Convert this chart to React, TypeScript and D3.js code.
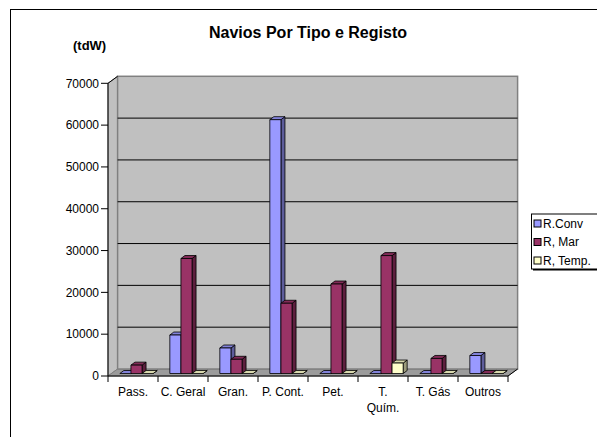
import * as d3 from 'd3'

const categories = ['Pass.', 'C. Geral', 'Gran.', 'P. Cont.', 'Pet.', 'T. Quím.', 'T. Gás', 'Outros']
const seriesNames = ['R.Conv', 'R, Mar', 'R, Temp.']
const seriesColors = ['#9999FF', '#993366', '#FFFFCC']
const rConv = [0, 9200, 6100, 60700, 0, 0, 0, 4300]
const rMar = [2000, 27500, 3400, 16800, 21400, 28200, 3600, 0]
const rTemp = [0, 0, 0, 0, 0, 2500, 0, 0]
const yTicks = [0, 10000, 20000, 30000, 40000, 50000, 60000, 70000]

const W = 597
const H = 437
const FONT = 'Liberation Sans, Arial, sans-serif'

// 3D depth of the plot box and of the bars
const DX = 9.6
const DY = 7
const BAR_SX = 3.5
const BAR_SY = 2.5
const BAR_DX = 4
const BAR_DY = 3

export default function App() {
  const x0 = 108
  const x1 = 508
  const y = d3.scaleLinear().domain([0, 70000]).range([376, 83.3])
  const x = d3.scaleBand<string>().domain(categories).range([x0, x1])
  const xs = d3.scaleBand<string>().domain(seriesNames).range([0, x.bandwidth()]).paddingOuter(0.75)
  const data = [rConv, rMar, rTemp]

  const base = y(0)
  const top = y(70000)
  const pts = (p: number[][]) => p.map((d) => d.join(',')).join(' ')

  const bars: JSX.Element[] = []
  categories.forEach((c, ci) => {
    seriesNames.forEach((s, si) => {
      const v = data[si][ci]
      const bx = (x(c) as number) + (xs(s) as number) + BAR_SX
      const bw = xs.bandwidth()
      const yb = base - BAR_SY
      const yt = y(v) - BAR_SY
      const col = d3.color(seriesColors[si])!
      const topCol = col.darker(0.45).toString()
      const sideCol = col.darker(1.4).toString()
      bars.push(
        <g key={`${ci}-${si}`} stroke="#000" strokeWidth={0.8} strokeLinejoin="round">
          <polygon
            points={pts([[bx + bw, yb], [bx + bw + BAR_DX, yb - BAR_DY], [bx + bw + BAR_DX, yt - BAR_DY], [bx + bw, yt]])}
            fill={sideCol}
          />
          <polygon
            points={pts([[bx, yt], [bx + BAR_DX, yt - BAR_DY], [bx + bw + BAR_DX, yt - BAR_DY], [bx + bw, yt]])}
            fill={topCol}
          />
          {v > 0 && <rect x={bx} y={yt} width={bw} height={yb - yt} fill={seriesColors[si]} />}
        </g>
      )
    })
  })

  return (
    <svg
      width={W}
      height={H}
      style={{ position: 'absolute', left: 0, top: 0, background: '#fff' }}
      fontFamily={FONT}
    >
      <rect x={10.5} y={9.5} width={620} height={460} fill="#fff" stroke="#000" strokeWidth={1} />

      <text x={308} y={37.5} textAnchor="middle" fontSize={16} fontWeight="bold">
        Navios Por Tipo e Registo
      </text>
      <text x={73} y={49.5} fontSize={13} fontWeight="bold">
        (tdW)
      </text>

      {/* side wall */}
      <polygon
        points={pts([[x0, base], [x0, top], [x0 + DX, top - DY], [x0 + DX, base - DY]])}
        fill="#c0c0c0"
        stroke="#808080"
        strokeWidth={1}
      />
      {/* floor */}
      <polygon
        points={pts([[x0, base], [x1, base], [x1 + DX, base - DY], [x0 + DX, base - DY]])}
        fill="#9c9c9c"
        stroke="#808080"
        strokeWidth={1}
      />
      {/* back wall */}
      <rect
        x={x0 + DX}
        y={top - DY}
        width={x1 - x0}
        height={base - top}
        fill="#c0c0c0"
        stroke="#808080"
        strokeWidth={1.5}
      />
      {yTicks
        .filter((t) => t > 0 && t < 70000)
        .map((t) => (
          <line key={t} x1={x0 + DX} x2={x1 + DX} y1={y(t) - DY} y2={y(t) - DY} stroke="#000" strokeWidth={1} />
        ))}

      {/* axes */}
      <line x1={x0} x2={x0} y1={top} y2={base} stroke="#000" />
      <line x1={x0} x2={x1} y1={base} y2={base} stroke="#000" />
      <line x1={x1} x2={x1 + DX} y1={base} y2={base - DY} stroke="#000" />
      <line x1={x0} x2={x0 + DX} y1={top} y2={top - DY} stroke="#000" />
      {yTicks.map((t) => (
        <g key={t}>
          <line x1={x0 - 7} x2={x0} y1={y(t)} y2={y(t)} stroke="#000" />
          <text x={99} y={y(t)} dy="0.35em" textAnchor="end" fontSize={12}>
            {t}
          </text>
        </g>
      ))}
      {[...categories.map((c) => x(c) as number), x1].map((px, i) => (
        <line key={i} x1={px} x2={px} y1={base} y2={base + 6} stroke="#000" />
      ))}
      {categories.map((c) => {
        const parts = c === 'T. Quím.' ? ['T.', 'Quím.'] : [c]
        const cx = (x(c) as number) + x.bandwidth() / 2
        return (
          <text key={c} x={cx} y={396} textAnchor="middle" fontSize={12}>
            {parts.map((p, i) => (
              <tspan key={i} x={cx} dy={i === 0 ? 0 : 15.6}>
                {p}
              </tspan>
            ))}
          </text>
        )
      })}

      {bars}

      {/* legend */}
      <rect x={533} y={215.5} width={66} height={55} fill="#000" />
      <rect x={531.5} y={214} width={66} height={55} fill="#fff" stroke="#000" />
      {seriesNames.map((s, i) => (
        <g key={s} transform={`translate(534,${223.5 + i * 18.5})`}>
          <rect x={0} y={-3.5} width={7} height={7} fill={seriesColors[i]} stroke="#000" />
          <text x={9} y={0} dy="0.35em" fontSize={12}>
            {s}
          </text>
        </g>
      ))}
    </svg>
  )
}
